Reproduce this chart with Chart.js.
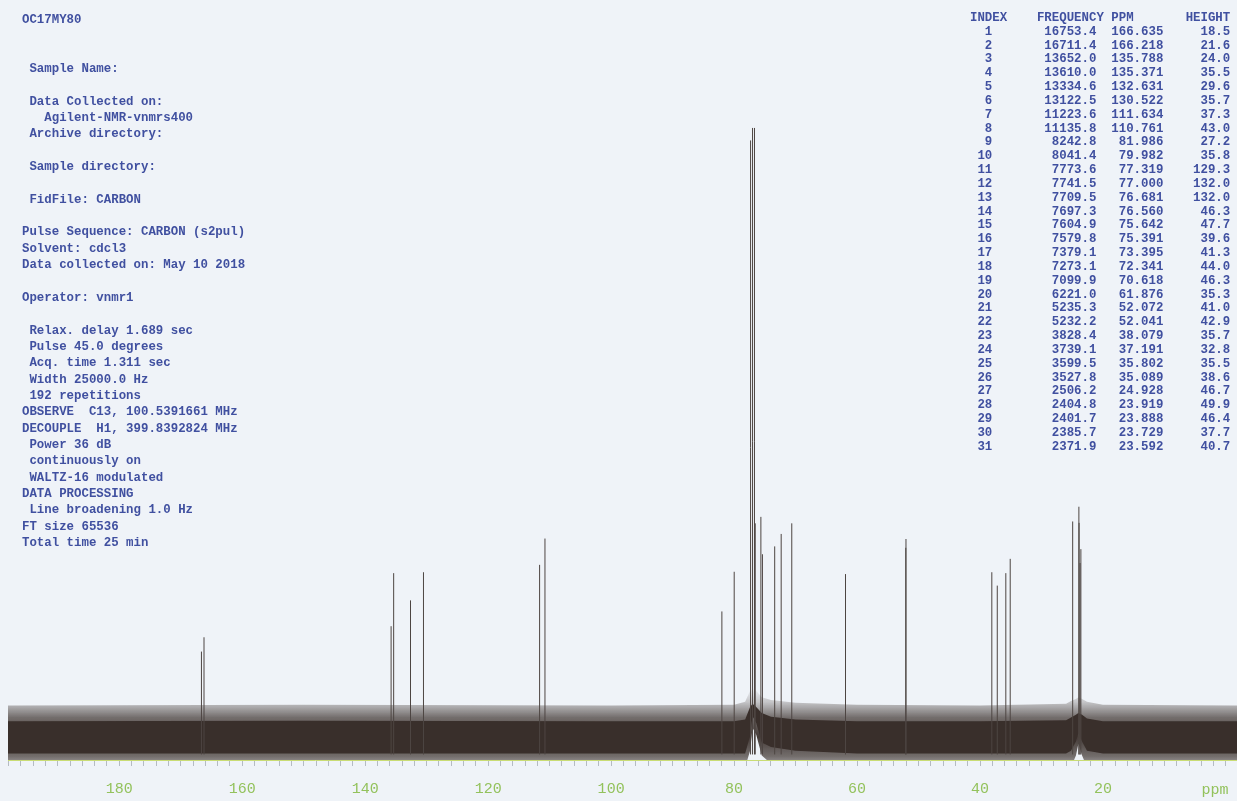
<!DOCTYPE html>
<html>
<head>
<meta charset="utf-8">
<script src="https://cdn.jsdelivr.net/npm/chart.js@4.4.1/dist/chart.umd.min.js"></script>
<style>
  html, body { margin: 0; padding: 0; background: #eff3f8; }
  #wrap { position: relative; width: 1237px; height: 801px; overflow: hidden; }
  #spectrum { position: absolute; left: 0; top: 0; }
  pre {
    position: absolute; margin: 0;
    font-family: "Liberation Mono", "DejaVu Sans Mono", monospace;
    font-weight: bold; font-size: 12.4px; color: #4050a0;
  }
  #params { left: 22px; top: 12px; line-height: 16.35px; }
  #peaktable { left: 970px; top: 12px; line-height: 13.83px; }
</style>
</head>
<body>
<div id="wrap">
  <canvas id="spectrum" width="1237" height="801"></canvas>
  <pre id="params"></pre>
  <pre id="peaktable"></pre>
</div>
<script>
// acquisition parameters printed on the left
var paramLines = [
  "OC17MY80", "", "",
  " Sample Name:", "",
  " Data Collected on:",
  "   Agilent-NMR-vnmrs400",
  " Archive directory:", "",
  " Sample directory:", "",
  " FidFile: CARBON", "",
  "Pulse Sequence: CARBON (s2pul)",
  "Solvent: cdcl3",
  "Data collected on: May 10 2018", "",
  "Operator: vnmr1", "",
  " Relax. delay 1.689 sec",
  " Pulse 45.0 degrees",
  " Acq. time 1.311 sec",
  " Width 25000.0 Hz",
  " 192 repetitions",
  "OBSERVE  C13, 100.5391661 MHz",
  "DECOUPLE  H1, 399.8392824 MHz",
  " Power 36 dB",
  " continuously on",
  " WALTZ-16 modulated",
  "DATA PROCESSING",
  " Line broadening 1.0 Hz",
  "FT size 65536",
  "Total time 25 min"
];

// peak list
var peakFreq = [16753.4, 16711.4, 13652.0, 13610.0, 13334.6, 13122.5, 11223.6, 11135.8,
  8242.8, 8041.4, 7773.6, 7741.5, 7709.5, 7697.3, 7604.9, 7579.8, 7379.1, 7273.1, 7099.9,
  6221.0, 5235.3, 5232.2, 3828.4, 3739.1, 3599.5, 3527.8, 2506.2, 2404.8, 2401.7, 2385.7, 2371.9];
var peakPpm = [166.635, 166.218, 135.788, 135.371, 132.631, 130.522, 111.634, 110.761,
  81.986, 79.982, 77.319, 77.000, 76.681, 76.560, 75.642, 75.391, 73.395, 72.341, 70.618,
  61.876, 52.072, 52.041, 38.079, 37.191, 35.802, 35.089, 24.928, 23.919, 23.888, 23.729, 23.592];
var peakHeight = [18.5, 21.6, 24.0, 35.5, 29.6, 35.7, 37.3, 43.0,
  27.2, 35.8, 129.3, 132.0, 132.0, 46.3, 47.7, 39.6, 41.3, 44.0, 46.3,
  35.3, 41.0, 42.9, 35.7, 32.8, 35.5, 38.6, 46.7, 49.9, 46.4, 37.7, 40.7];

// baseline noise envelope
var noisePpm       = [198.1, 150, 100, 80, 78.2, 77.4, 77.0, 76.4, 75.5, 74, 70, 60, 40, 26, 25.2, 24.4, 24.0, 23.4, 22.6, 20, -1.8];
var noiseCoreTop   = [3.4, 3.5, 3.4, 3.4, 3.8, 6.5, 7.2, 6.5, 5.2, 4.4, 3.8, 3.4, 3.4, 3.6, 4.2, 4.8, 5.2, 4.8, 4.0, 3.4, 3.4];
var noiseCoreBot   = [-3.6, -3.6, -3.6, -3.6, -3.6, 0.2, 4.5, 3.0, -1.2, -2.2, -3.0, -3.6, -3.6, -3.6, -3.0, -1.0, 0.8, -1.0, -3.0, -3.6, -3.6];
var noiseFringeTop = [6.8, 7.0, 6.8, 7.0, 7.6, 10.0, 10.5, 10.0, 8.6, 8.0, 7.4, 7.0, 6.8, 7.2, 7.8, 8.2, 8.6, 8.2, 7.6, 7.0, 6.8];
var noiseFringeBot = [-7.2, -7.4, -7.4, -7.2, -6.6, -3.0, 2.0, 0.5, -4.0, -5.8, -6.6, -7.4, -7.2, -7.2, -6.6, -4.0, -1.5, -4.0, -6.6, -7.2, -7.2];

var tickLabels = [180, 160, 140, 120, 100, 80, 60, 40, 20];

document.getElementById("params").textContent = paramLines.join("\n");

var rows = ["INDEX    FREQUENCY PPM       HEIGHT"];
for (var i = 0; i < peakPpm.length; i++) {
  rows.push(
    String(i + 1).padStart(3) +
    peakFreq[i].toFixed(1).padStart(14) +
    peakPpm[i].toFixed(3).padStart(9) +
    peakHeight[i].toFixed(1).padStart(9)
  );
}
document.getElementById("peaktable").textContent = rows.join("\n");

function envelope(ys) {
  return noisePpm.map(function (p, i) { return { x: p, y: ys[i] }; });
}

var stickData = [];
peakPpm.forEach(function (p, i) {
  stickData.push({ x: p, y: -3.8 });
  stickData.push({ x: p, y: peakHeight[i] });
  stickData.push({ x: p, y: null });
});

// soft edge of the noise band: dark in the middle, fading outward
function fringeFill(context) {
  var chart = context.chart;
  if (!chart.chartArea) return "rgba(70, 60, 56, 0.4)";
  var y = chart.scales.y;
  var g = chart.ctx.createLinearGradient(0, y.getPixelForValue(10.5), 0, y.getPixelForValue(-10.5));
  g.addColorStop(0.0, "rgba(70, 60, 56, 0)");
  g.addColorStop(0.14, "rgba(70, 60, 56, 0.25)");
  g.addColorStop(0.3, "rgba(62, 52, 48, 0.7)");
  g.addColorStop(0.5, "rgba(58, 48, 44, 0.95)");
  g.addColorStop(0.7, "rgba(62, 52, 48, 0.7)");
  g.addColorStop(0.86, "rgba(70, 60, 56, 0.25)");
  g.addColorStop(1.0, "rgba(70, 60, 56, 0)");
  return g;
}

var ppmLabel = {
  id: "ppmLabel",
  afterDraw: function (chart) {
    var c = chart.ctx;
    c.save();
    c.fillStyle = "#93c25c";
    c.font = '15px "Liberation Mono", monospace';
    c.textAlign = "center";
    c.textBaseline = "middle";
    c.fillText("ppm", 1215, 790);
    c.restore();
  },
};

var ctx = document.getElementById("spectrum").getContext("2d");

new Chart(ctx, {
  type: "line",
  data: {
    datasets: [
      {
        label: "peaks",
        data: stickData,
        borderColor: "#4d4542",
        borderWidth: 1,
        pointRadius: 0,
        pointHoverRadius: 0,
        spanGaps: false,
        fill: false,
        order: 0,
      },
      {
        label: "core top",
        data: envelope(noiseCoreTop),
        borderWidth: 0,
        pointRadius: 0,
        pointHoverRadius: 0,
        fill: "+1",
        backgroundColor: "#392f2b",
        order: 1,
      },
      {
        label: "core bottom",
        data: envelope(noiseCoreBot),
        borderWidth: 0,
        pointRadius: 0,
        pointHoverRadius: 0,
        fill: false,
        order: 1,
      },
      {
        label: "fringe top",
        data: envelope(noiseFringeTop),
        borderWidth: 0,
        pointRadius: 0,
        pointHoverRadius: 0,
        fill: "+1",
        backgroundColor: fringeFill,
        order: 2,
      },
      {
        label: "fringe bottom",
        data: envelope(noiseFringeBot),
        borderWidth: 0,
        pointRadius: 0,
        pointHoverRadius: 0,
        fill: false,
        order: 2,
      },
    ],
  },
  options: {
    responsive: false,
    animation: false,
    devicePixelRatio: 1,
    layout: {
      autoPadding: false,
      padding: { left: 8, right: 0, top: 8, bottom: 0 },
    },
    plugins: {
      legend: { display: false },
      tooltip: { enabled: false },
    },
    scales: {
      x: {
        type: "linear",
        reverse: true,
        min: -1.8,
        max: 198.1,
        afterFit: function (scale) {
          scale.height = 41;
          scale.paddingLeft = 0;
          scale.paddingRight = 0;
        },
        border: { display: true, color: "#c9dc74", width: 1 },
        grid: {
          display: true,
          drawOnChartArea: false,
          drawTicks: true,
          tickLength: 6,
          tickColor: "#b5bbc2",
        },
        ticks: {
          stepSize: 2,
          autoSkip: false,
          includeBounds: false,
          maxRotation: 0,
          padding: 14,
          color: "#93c25c",
          font: { family: '"Liberation Mono", monospace', size: 15 },
          callback: function (value) {
            var v = Math.round(value);
            return tickLabels.indexOf(v) >= 0 ? String(v) : "";
          },
        },
      },
      y: {
        display: false,
        min: -5,
        max: 158,
      },
    },
  },
  plugins: [ppmLabel],
});
</script>
</body>
</html>
